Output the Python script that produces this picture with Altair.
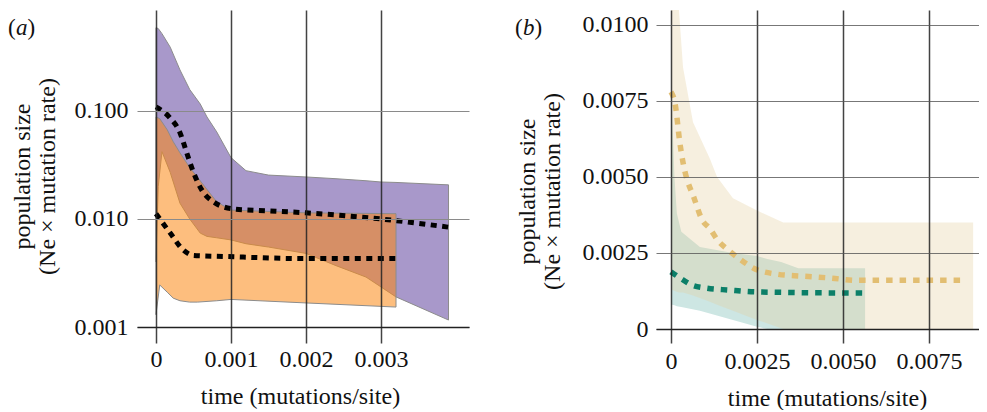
import altair as alt
import pandas as pd

# ---------------- panel (a) data ----------------
pur_t = [0, 0.00003, 0.00008, 0.00019, 0.00032, 0.00045, 0.00059, 0.00068, 0.00081, 0.001,
         0.0012, 0.0015, 0.002, 0.0024, 0.0028, 0.003, 0.0032, 0.0039]
pur_hi = [0.59, 0.58, 0.52, 0.39, 0.24, 0.158, 0.116, 0.088, 0.064, 0.037,
          0.028, 0.0255, 0.0245, 0.0236, 0.0226, 0.022, 0.0218, 0.0207]
pur_lo = [0.004, 0.020, 0.042, 0.027, 0.014, 0.010, 0.0074, 0.0069, 0.0067, 0.0064,
          0.0059, 0.0055, 0.0048, 0.0037, 0.0029, 0.00235, 0.0019, 0.00116]

ora_t = [0, 0.00005, 0.00015, 0.00023, 0.00032, 0.00045, 0.00055, 0.00081, 0.001, 0.002, 0.0032]
ora_hi = [0.088, 0.085, 0.067, 0.052, 0.041, 0.030, 0.0245, 0.0144, 0.0121, 0.0114, 0.0112]
ora_lo = [0.0013, 0.00245, 0.0021, 0.00185, 0.00175, 0.0017, 0.0017, 0.00175, 0.0018, 0.00167, 0.00153]

med1_t = [0, 0.00019, 0.00032, 0.00041, 0.0005, 0.00061, 0.00076, 0.00103, 0.0015, 0.002, 0.003, 0.0039]
med1_v = [0.109, 0.086, 0.063, 0.041, 0.027, 0.0186, 0.0145, 0.0124, 0.0119, 0.0114, 0.0100, 0.0084]

med2_t = [0, 0.00019, 0.00036, 0.0005, 0.0009, 0.002, 0.0032]
med2_v = [0.0112, 0.0074, 0.0052, 0.0046, 0.0045, 0.0043, 0.0043]

# ---------------- panel (b) data ----------------
tan_t = [0, 0.00023, 0.00035, 0.00064, 0.00113, 0.00134, 0.0018, 0.0025, 0.00326, 0.00878]
tan_hi = [0.013, 0.0105, 0.0086, 0.0068, 0.0056, 0.0050, 0.0043, 0.0039, 0.0035, 0.0035]
tan_lo = [0.0013, 0.0012, 0.0012, 0.0011, 0.0009, 0.0008, 0.0006, 0.0003, 0.0, 0.0]

teal_t = [0, 0.00003, 0.0001, 0.00017, 0.0003, 0.00084, 0.0018, 0.0025, 0.0028, 0.0032, 0.0037, 0.00564]
teal_hi = [0.0075, 0.0072, 0.0050, 0.0038, 0.0032, 0.0027, 0.0025, 0.0024, 0.0023, 0.0022, 0.0020, 0.0020]
teal_lo = [0.0008, 0.0008, 0.00078, 0.00075, 0.00072, 0.0006, 0.0003, 0.00007, 0.0, 0.0, 0.0, 0.0]

tanl_t = [0, 0.00012, 0.00026, 0.0004, 0.0005, 0.00064, 0.0009, 0.00113, 0.00137, 0.00166,
          0.002, 0.0024, 0.0031, 0.0038, 0.0046, 0.0054, 0.0086]
tanl_v = [0.0078, 0.0074, 0.0061, 0.0052, 0.0048, 0.0044, 0.0036, 0.0033, 0.0029, 0.0026,
          0.0023, 0.0020, 0.0018, 0.00174, 0.00168, 0.0016, 0.0016]

grn_t = [0, 0.00026, 0.0006, 0.001, 0.0017, 0.0025, 0.00564]
grn_v = [0.00188, 0.00168, 0.00145, 0.00135, 0.00128, 0.00122, 0.00118]

a_xticks = [0, 0.001, 0.002, 0.003]
a_yticks = [0.001, 0.01, 0.1]
b_xticks = [0, 0.0025, 0.005, 0.0075]
b_yticks = [0, 0.0025, 0.005, 0.0075, 0.01]

x_title = "time (mutations/site)"
y_title = ["population size", "(Ne \u00d7 mutation rate)"]

FONT = "Liberation Serif"
FS = 24


def band(t, hi, lo):
    return pd.DataFrame({"t": t, "hi": hi, "lo": lo})


def line(t, v):
    return pd.DataFrame({"t": t, "v": v})


one = pd.DataFrame({"k": [0]})


def panel_label(letter, x0, y0):
    common = dict(font=FONT, fontSize=23, baseline="middle", align="left", color="#111")
    p1 = alt.Chart(one).mark_text(text="(", **common).encode(x=alt.value(x0), y=alt.value(y0))
    p2 = alt.Chart(one).mark_text(text=letter, fontStyle="italic", **common).encode(
        x=alt.value(x0 + 8), y=alt.value(y0))
    p3 = alt.Chart(one).mark_text(text=")", **common).encode(x=alt.value(x0 + 19.5), y=alt.value(y0))
    return [p1, p2, p3]


# ---------------- panel (a) ----------------
xa_scale = alt.Scale(domain=[-0.000253, 0.004173], nice=False, zero=False)
ya_scale = alt.Scale(type="log", domain=[0.001, 0.861], nice=False)

xa_axis = alt.Axis(values=a_xticks, labelExpr="datum.value == 0 ? '0' : format(datum.value, '.3f')",
                   title=x_title, grid=True, gridColor="#222", gridWidth=1.5, gridOpacity=0.85,
                   tickColor="#222", tickSize=16, tickWidth=1.5, tickOpacity=0.85,
                   domainColor="#222", domainWidth=1.5,
                   labelPadding=4, titlePadding=13, titleX=163, zindex=1)
ya_axis = alt.Axis(values=a_yticks, format=".3f", title=y_title, grid=True, gridColor="#8a8a8a",
                   gridWidth=1.2, domain=False, ticks=False, labelPadding=9, titlePadding=15,
                   titleY=166, titleLineHeight=25, zindex=1)


def XA():
    return alt.X("t:Q", scale=xa_scale, axis=xa_axis)


def YA(f):
    return alt.Y(f, scale=ya_scale, axis=ya_axis)


pur = alt.Chart(band(pur_t, pur_hi, pur_lo)).mark_area(
    color="#A898CA", stroke="#8c8c8c", strokeWidth=1, opacity=1
).encode(x=XA(), y=YA("hi:Q"), y2="lo:Q")
ora = alt.Chart(band(ora_t, ora_hi, ora_lo)).mark_area(
    color="#FB8914", fillOpacity=0.55, stroke="#8c8c8c", strokeWidth=1
).encode(x=XA(), y=YA("hi:Q"), y2="lo:Q")
m1 = alt.Chart(line(med1_t, med1_v)).mark_line(
    color="#000000", strokeWidth=5, strokeDash=[6, 5.5], strokeCap="butt", interpolate="monotone"
).encode(x=XA(), y=YA("v:Q"))
m2 = alt.Chart(line(med2_t, med2_v)).mark_line(
    color="#000000", strokeWidth=5, strokeDash=[6, 5.5], strokeCap="butt", interpolate="monotone"
).encode(x=XA(), y=YA("v:Q"))

panel_a = alt.layer(pur, ora, m1, m2, *panel_label("a", -129, 18)).properties(width=332, height=317)

# ---------------- panel (b) ----------------
xb_scale = alt.Scale(domain=[-0.000436, 0.00895], nice=False, zero=False)
yb_scale = alt.Scale(domain=[0, 0.010493], nice=False, zero=False)

xb_axis = alt.Axis(values=b_xticks, labelExpr="datum.value == 0 ? '0' : format(datum.value, '.4f')",
                   title=x_title, grid=True, gridColor="#222", gridWidth=1.5, gridOpacity=0.85,
                   tickColor="#222", tickSize=14, tickWidth=1.5, tickOpacity=0.85,
                   domainColor="#222", domainWidth=1.5,
                   labelPadding=6, titlePadding=13, titleX=171, zindex=1)
yb_axis = alt.Axis(values=b_yticks, labelExpr="datum.value == 0 ? '0' : format(datum.value, '.4f')",
                   title=y_title, grid=True, gridColor="#555", gridWidth=1.2, gridOpacity=0.8,
                   domain=False, ticks=False, labelPadding=8, titlePadding=18,
                   titleY=181, titleLineHeight=25, zindex=1)


def XB():
    return alt.X("t:Q", scale=xb_scale, axis=xb_axis)


def YB(f):
    return alt.Y(f, scale=yb_scale, axis=yb_axis)


teal = alt.Chart(band(teal_t, teal_hi, teal_lo)).mark_area(
    color="#CDE6E3", opacity=1, clip=True
).encode(x=XB(), y=YB("hi:Q"), y2="lo:Q")
tan = alt.Chart(band(tan_t, tan_hi, tan_lo)).mark_area(
    color="#E3CE9E", fillOpacity=0.33, clip=True
).encode(x=XB(), y=YB("hi:Q"), y2="lo:Q")
tanl = alt.Chart(line(tanl_t, tanl_v)).mark_line(
    color="#E2BE72", strokeWidth=5.5, strokeDash=[6.5, 7], strokeCap="butt", interpolate="monotone"
).encode(x=XB(), y=YB("v:Q"))
grn = alt.Chart(line(grn_t, grn_v)).mark_line(
    color="#0B7F68", strokeWidth=5.5, strokeDash=[6.5, 7], strokeCap="butt", interpolate="monotone"
).encode(x=XB(), y=YB("v:Q"))

panel_b = alt.layer(teal, tan, tanl, grn, *panel_label("b", -141, 18)).properties(width=323, height=319)

chart = alt.hconcat(panel_a, panel_b, spacing=46).properties(
    padding={"left": 0, "top": 2, "right": 0, "bottom": 0},
    background="white",
).configure_view(stroke=None).configure_axis(
    labelFont=FONT, titleFont=FONT, labelFontSize=FS, titleFontSize=FS,
    titleFontWeight="normal", labelColor="#111", titleColor="#111"
).resolve_scale(x="independent", y="independent")

chart.save("out.html", embed_options={"renderer": "svg", "actions": False})
